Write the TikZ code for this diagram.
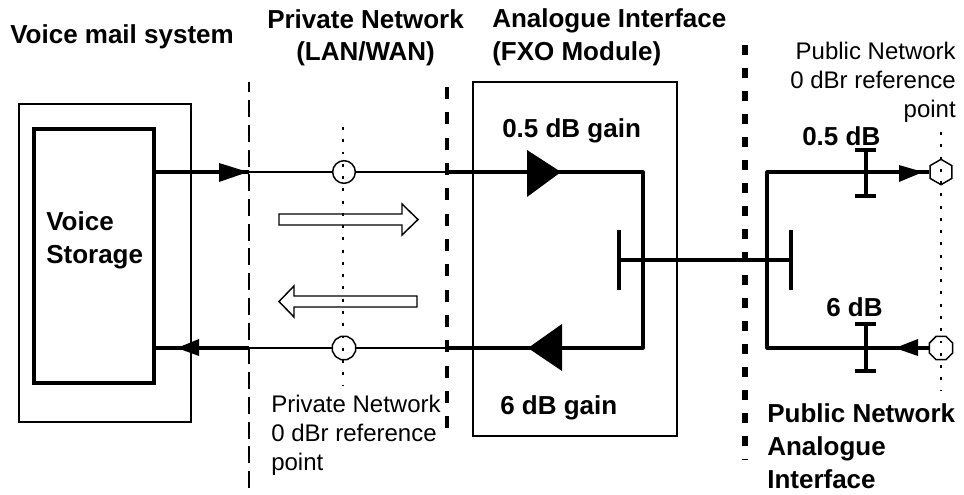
\documentclass[tikz,border=0pt]{standalone}
\usepackage{fontspec}
\setmainfont{Liberation Sans}
\usetikzlibrary{shapes,arrows,positioning,calc,arrows.meta}
\tikzset{
    heading/.style={font=\fontsize{19.5}{24.5}\selectfont\bfseries, inner sep=0pt, anchor=base west, align=left},
    note/.style={font=\fontsize{18}{21.4}\selectfont, inner sep=0pt, anchor=base west, align=left},
    thinline/.style={line width=1.1pt},
    thickline/.style={line width=2.4pt},
    refpoint/.style={draw, line width=1.1pt, inner sep=0pt, minimum size=17pt},
    dotline/.style={line width=1.2pt, dash pattern=on 2.2pt off 7pt}
}
\begin{document}
\begin{tikzpicture}[x=0.75pt,y=-0.75pt]
    \useasboundingbox (0,0) rectangle (964,494);

    \draw[thinline] (19,104) rectangle (191,422);
    \node[draw, line width=2.4pt, minimum width=90pt, minimum height=190.5pt, inner sep=0pt] (storage) at (94,256) {};
    \draw[thinline] (473,82) rectangle (677,436);

    \draw[line width=1.2pt, dash pattern=on 12.75pt off 5.8pt, dash phase=5pt] (249,82) -- (249,490);
    \draw[line width=3pt, dash pattern=on 9pt off 10pt] (447,87) -- (447,431);
    \draw[line width=4.5pt, dash pattern=on 7.5pt off 9.75pt] (745,45) -- (745,460);
    \draw[dotline] (343,127) -- (343,386);
    \draw[dotline] (941,132) -- (941,390);

    \node[refpoint, circle] (privtop) at (344,172) {};
    \node[refpoint, regular polygon, regular polygon sides=12, minimum size=18pt] (privbot) at (344,348) {};
    \node[refpoint, regular polygon, regular polygon sides=6, shape border rotate=30, minimum size=19pt] (pubtop) at (941,172) {};
    \node[refpoint, regular polygon, regular polygon sides=8, minimum size=19pt] (pubbot) at (941,348) {};

    \coordinate (txleft) at (249,172);
    \coordinate (txright) at (447,172);
    \coordinate (txcorner) at (643,172);
    \coordinate (rxcorner) at (643,348);
    \coordinate (rxright) at (447,348);
    \coordinate (rxleft) at (249,348);
    \coordinate (pubtx) at (767,172);
    \coordinate (pubrx) at (767,348);
    \coordinate (hybleft) at (619,260);
    \coordinate (hybright) at (791,260);

    \draw[thickline] (storage.east |- txleft) -- (txleft);
    \draw[thinline] (txleft) -- (privtop) -- (txright);
    \draw[thickline, line join=round] (txright) -- (txcorner) -- (rxcorner) -- (rxright);
    \draw[thinline] (rxright) -- (privbot) -- (rxleft);
    \draw[thickline] (rxleft) -- (storage.east |- rxleft);
    \draw[thickline, line join=round] (pubtop) -- (pubtx) -- (pubrx) -- (pubbot);
    \draw[thickline] (hybleft) -- (hybright);
    \draw[thickline] (619,230) -- (619,290);
    \draw[thickline] (791,230) -- (791,290);
    \draw[thickline] (866,150) -- (866,196) (855,150) -- (876,150) (855,196) -- (876,196);
    \draw[thickline] (866,324) -- (866,371) (855,324) -- (876,324) (855,371) -- (876,371);

    \fill (219,163) -- (248,172) -- (219,182) -- cycle;
    \fill (527,150) -- (561,172) -- (527,197) -- cycle;
    \fill (899,165) -- (923,172) -- (899,182) -- cycle;
    \fill (177,348) -- (199,339) -- (199,356) -- cycle;
    \fill (528,348) -- (562,324) -- (562,371) -- cycle;
    \fill (895,348) -- (918,339) -- (918,356) -- cycle;

    \draw[thinline] (279,214) -- (402,214) -- (402,204) -- (418,219.5) -- (402,235) -- (402,225) -- (279,225) -- cycle;
    \draw[thinline] (417,296) -- (294,296) -- (294,286) -- (279,301.5) -- (294,317) -- (294,307) -- (417,307) -- cycle;

    \node[heading] (voicemail) at (10,43) {Voice mail system};
    \node[heading] (privnet) at (267,28) {Private Network};
    \node[heading] (lanwan) at (296,60) {(LAN/WAN)};
    \node[heading] (analogue) at (492,60) {Analogue Interface\\(FXO Module)};
    \node[heading] (voicestore) at (46,263) {Voice\\Storage};
    \node[heading] (txgain) at (502,137) {0.5 dB gain};
    \node[heading] (rxgain) at (500,414) {6 dB gain};
    \node[heading] (txloss) at (802,145) {0.5 dB};
    \node[heading] (rxloss) at (826,316) {6 dB};
    \node[heading] (pubiface) at (767,488) {Public Network\\Analogue\\Interface};
    \node[note] (privref) at (271,470) {Private Network\\0 dBr reference\\point};
    \node[note, align=right, anchor=base east] (pubref) at (956,117) {Public Network\\0 dBr reference\\point};
\end{tikzpicture}
\end{document}
